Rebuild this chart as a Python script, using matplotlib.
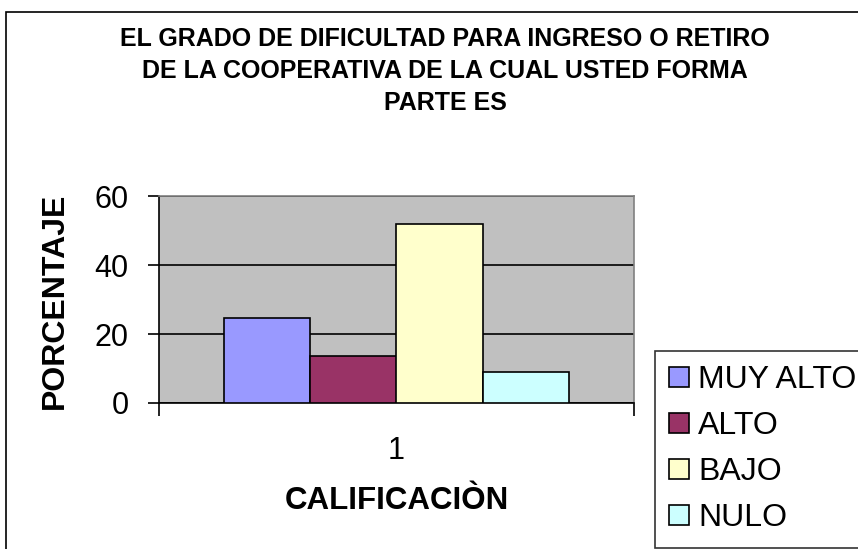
import matplotlib.pyplot as plt
from matplotlib.patches import Rectangle

plt.rcParams['font.family'] = ['Liberation Sans', 'DejaVu Sans']

categories = ['MUY ALTO', 'ALTO', 'BAJO', 'NULO']
values = [24.6, 13.6, 51.9, 8.9]
colors = ['#9999FF', '#993366', '#FFFFCC', '#CCFFFF']
title = ('EL GRADO DE DIFICULTAD PARA INGRESO O RETIRO\n'
         'DE LA COOPERATIVA DE LA CUAL USTED FORMA\n'
         'PARTE ES')

W, H = 858, 549
fig = plt.figure(figsize=(W / 100, H / 100), dpi=100)

# outer chart border
fig.patches.append(Rectangle((6 / W, -0.1), 2, (H - 12) / H + 0.1,
                             transform=fig.transFigure, fill=False,
                             edgecolor='black', linewidth=1.2))

ax = fig.add_axes([159 / W, (H - 403) / H, (634 - 159) / W, (403 - 196) / H])
ax.set_facecolor('#C0C0C0')

n = len(values)
w = 1 / (n + 1.5)
bars = []
for i, (v, c, lab) in enumerate(zip(values, colors, categories)):
    x = 1 + (i - (n - 1) / 2) * w
    b = ax.bar(x, v, width=w, color=c, edgecolor='black', linewidth=1.2,
               label=lab, zorder=3)
    bars.append(b)

ax.set_xlim(0.5, 1.5)
ax.set_ylim(0, 60)
ax.set_yticks([0, 20, 40, 60])
ax.yaxis.grid(True, color='black', linewidth=1.2, zorder=1)
ax.set_axisbelow(True)

ax.set_xticks([0.5, 1.5])
ax.set_xticklabels([])
ax.set_xticks([1], minor=True)
ax.set_xticklabels(['1'], minor=True)
ax.tick_params(axis='x', which='major', direction='out', length=9, width=1.2)
ax.tick_params(axis='x', which='minor', length=0, labelsize=22, pad=24)
ax.tick_params(axis='y', direction='out', length=8, width=1.2, labelsize=22, pad=14)

for s in ['top', 'right']:
    ax.spines[s].set_color('#808080')
    ax.spines[s].set_linewidth(1.2)
for s in ['left', 'bottom']:
    ax.spines[s].set_color('black')
    ax.spines[s].set_linewidth(1.2)

fig.text(55 / W, 1 - 301 / H, 'PORCENTAJE', rotation=90, ha='center',
         va='center', fontsize=23, fontweight='bold')
fig.text(397 / W, 1 - 501 / H, 'CALIFICACIÒN', ha='center', va='center',
         fontsize=22.5, fontweight='bold')

fig.text(445 / W, 1 - 71 / H, title, ha='center', va='center', fontsize=18,
         fontweight='bold', linespacing=1.43)

leg = fig.legend(handles=bars, labels=categories, loc='upper left',
                 bbox_to_anchor=(655 / W, 1 - 351 / H), fontsize=23,
                 frameon=True, fancybox=False, edgecolor='black',
                 handlelength=0.6, handleheight=0.6, handletextpad=0.3,
                 labelspacing=0.5, borderpad=0.45, borderaxespad=0)
leg.get_frame().set_linewidth(1.2)

fig.savefig('out.png', dpi=100)
